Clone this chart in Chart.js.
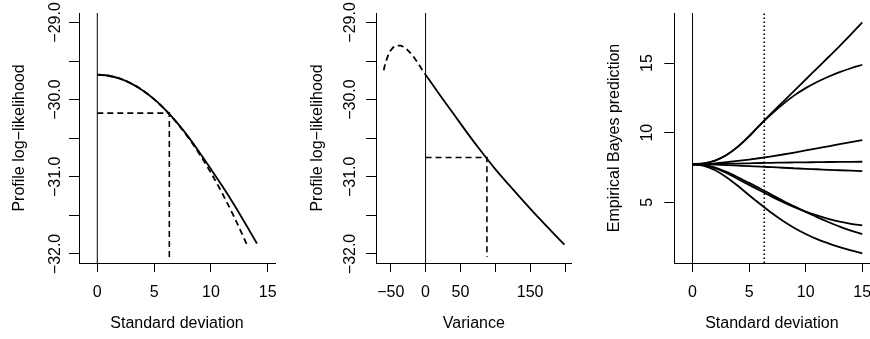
<!DOCTYPE html>
<html>
<head>
<meta charset="utf-8">
<title>Profile likelihood and empirical Bayes</title>
<script src="https://cdn.jsdelivr.net/npm/chart.js@4.4.1/dist/chart.umd.min.js"></script>
<style>
  html, body { margin: 0; padding: 0; background: #fff; }
  .panel { position: absolute; top: 0; width: 290px; height: 339px; }
</style>
</head>
<body>
<div class="panel" style="left:0"><canvas id="sdChart"></canvas></div>
<div class="panel" style="left:290px"><canvas id="varChart"></canvas></div>
<div class="panel" style="left:580px"><canvas id="ebChart"></canvas></div>
<script>
// Panel 1: profile log-likelihood by standard deviation
const sdGrid = [0, 1, 2, 3, 4, 5, 6, 7, 8, 9, 10, 11, 12, 13, 14.05];
const profileBySd = [-29.678, -29.691, -29.729, -29.793, -29.881, -29.994, -30.132, -30.295,
                     -30.480, -30.685, -30.900, -31.120, -31.352, -31.598, -31.865];
const quadGrid = [0, 1, 2, 3, 4, 5, 6, 7, 8, 9, 10, 11, 12, 13, 13.24];
const quadApprox = [-29.678, -29.691, -29.729, -29.792, -29.881, -29.996, -30.135, -30.300,
                    -30.491, -30.707, -30.948, -31.215, -31.507, -31.824, -31.904];
const sdHat = 6.34;
const llAtSdHat = -30.175;

// Panel 2: profile log-likelihood by variance
const varGridNeg = [-60, -58, -55, -52, -48, -44, -40, -36, -32, -28, -24, -20, -16, -12, -8, -4, 0];
const profileNeg = [-29.62, -29.54, -29.46, -29.39, -29.34, -29.31, -29.30, -29.30, -29.315,
                    -29.34, -29.375, -29.413, -29.46, -29.512, -29.568, -29.624, -29.678];
const varGrid = [0, 20, 40, 60, 80, 100, 120, 140, 160, 180, 199.2];
const profileByVar = [-29.678, -29.934, -30.183, -30.434, -30.673, -30.900, -31.109, -31.312,
                      -31.510, -31.700, -31.880];
const varHat = 88;
const llAtVarHat = -30.751;
const dropTo = -32.04;

// Panel 3: empirical Bayes predictions by standard deviation
const ebGrid = [0, 1, 2, 3, 4, 5, 6, 7, 8, 9, 10, 11, 12, 13, 14, 15];
const eb1 = [7.73, 7.80, 8.00, 8.40, 9.00, 9.75, 10.60, 11.42, 12.22, 13.02, 13.82, 14.62, 15.42, 16.22, 17.06, 17.92];
const eb2 = [7.73, 7.80, 7.99, 8.39, 8.98, 9.73, 10.58, 11.35, 12.05, 12.68, 13.20, 13.64, 14.02, 14.35, 14.63, 14.88];
const eb3 = [7.73, 7.75, 7.80, 7.88, 7.97, 8.07, 8.18, 8.30, 8.43, 8.57, 8.72, 8.87, 9.02, 9.17, 9.32, 9.47];
const eb4 = [7.73, 7.74, 7.75, 7.77, 7.78, 7.80, 7.82, 7.83, 7.85, 7.86, 7.87, 7.88, 7.89, 7.90, 7.905, 7.91];
const eb5 = [7.73, 7.72, 7.70, 7.67, 7.63, 7.59, 7.56, 7.52, 7.48, 7.44, 7.40, 7.37, 7.33, 7.30, 7.27, 7.24];
const eb6 = [7.73, 7.66, 7.45, 7.10, 6.68, 6.25, 5.82, 5.40, 5.00, 4.64, 4.33, 4.05, 3.80, 3.60, 3.45, 3.34];
const eb7 = [7.73, 7.67, 7.49, 7.18, 6.80, 6.39, 5.97, 5.53, 5.10, 4.70, 4.31, 3.93, 3.58, 3.25, 2.96, 2.71];
const eb8 = [7.73, 7.62, 7.30, 6.80, 6.18, 5.50, 4.85, 4.22, 3.65, 3.15, 2.72, 2.35, 2.05, 1.78, 1.54, 1.32];
const ebLines = [eb1, eb2, eb3, eb4, eb5, eb6, eb7, eb8];

// Axis ranges and ticks
const llMin = -32.117, llMax = -28.878;
const llTicks = [-32, -31.5, -31, -30.5, -30, -29.5, -29];
const llLabels = [-32, -31, -30, -29];
const sdMin = -1.61, sdMax = 15.64;
const sdTicks = [0, 5, 10, 15];
const varMin = -71.1, varMax = 209.6;
const varTicks = [-50, 0, 50, 100, 150, 200];
const varLabels = [-50, 0, 50, 150];
const ebMin = 0.633, ebMax = 18.6;
const ebTicks = [5, 10, 15];

const FONT = '"Liberation Sans", Arial, Helvetica, sans-serif';
Chart.defaults.font.family = FONT;
Chart.defaults.font.size = 16;
Chart.defaults.color = '#000';

const pts = (xs, ys) => xs.map((x, i) => ({ x: x, y: ys[i] }));
const minus = s => s.replace('-', '\u2212');

const measureCtx = document.createElement('canvas').getContext('2d');
measureCtx.font = '16px ' + FONT;
function widest(labels) {
    return Math.max(...labels.map(t => measureCtx.measureText(t).width));
}

function xAxis(min, max, ticks, shown) {
    return {
        type: 'linear', position: 'bottom', min: min, max: max, bounds: 'data',
        afterBuildTicks: s => { s.ticks = ticks.map(v => ({ value: v })); },
        afterFit: s => { s.height = 76; s.paddingLeft = 0; s.paddingRight = 0; },
        grid: { drawOnChartArea: false, drawTicks: true, tickLength: 9, color: '#000', lineWidth: 1 },
        border: { display: true, color: '#000', width: 1 },
        ticks: {
            padding: 10.9, maxRotation: 0, minRotation: 0, autoSkip: false,
            callback: v => shown.includes(v) ? minus(String(v)) : ''
        },
        title: { display: true, text: '', padding: { top: 0, bottom: 5.9 } }
    };
}

function yAxis(min, max, ticks, shown, fmt, width, labelDist, titleText, titlePad) {
    const labels = shown.map(fmt);
    return {
        type: 'linear', position: 'left', min: min, max: max, bounds: 'data',
        afterBuildTicks: s => { s.ticks = ticks.map(v => ({ value: v })); },
        afterFit: s => { s.width = width; s.paddingTop = 0; s.paddingBottom = 0; },
        grid: { drawOnChartArea: false, drawTicks: true, tickLength: 10, color: '#000', lineWidth: 1 },
        border: { display: true, color: '#000', width: 1 },
        ticks: {
            minRotation: 90, maxRotation: 90, crossAlign: 'center', autoSkip: false,
            padding: labelDist - 10 - widest(labels) / 2,
            callback: v => shown.includes(v) ? fmt(v) : ''
        },
        title: { display: true, text: titleText, padding: { top: titlePad, bottom: 0 } }
    };
}

function line(data, opts) {
    return Object.assign({
        data: data, borderColor: '#000', borderWidth: 1.8, pointRadius: 0,
        fill: false, cubicInterpolationMode: 'monotone'
    }, opts || {});
}

function baseOptions(rightPad, scales) {
    return {
        responsive: true, maintainAspectRatio: false, animation: false, events: [],
        layout: { padding: { top: 13, right: rightPad, bottom: 0, left: 0 } },
        plugins: { legend: { display: false }, tooltip: { enabled: false } },
        scales: scales
    };
}

const llFmt = v => minus(v.toFixed(1));

// Panel 1
const sdX = xAxis(sdMin, sdMax, sdTicks, sdTicks);
sdX.title.text = 'Standard deviation';
new Chart(document.getElementById('sdChart'), {
    type: 'line',
    data: {
        datasets: [
            line([{ x: 0, y: llMin }, { x: 0, y: llMax }], { borderWidth: 1, cubicInterpolationMode: 'default', tension: 0 }),
            line(pts(sdGrid, profileBySd)),
            line(pts(quadGrid, quadApprox), { borderDash: [6, 4] }),
            line([{ x: 0, y: llAtSdHat }, { x: sdHat, y: llAtSdHat }, { x: sdHat, y: dropTo }],
                 { borderDash: [6, 4], borderWidth: 1.6, cubicInterpolationMode: 'default', tension: 0 })
        ]
    },
    options: baseOptions(15, {
        x: sdX,
        y: yAxis(llMin, llMax, llTicks, llLabels, llFmt, 79, 23.5, 'Profile log\u2212likelihood', 9.9)
    })
});

// Panel 2
const varX = xAxis(varMin, varMax, varTicks, varLabels);
varX.title.text = 'Variance';
new Chart(document.getElementById('varChart'), {
    type: 'line',
    data: {
        datasets: [
            line([{ x: 0, y: llMin }, { x: 0, y: llMax }], { borderWidth: 1, cubicInterpolationMode: 'default', tension: 0 }),
            line(pts(varGrid, profileByVar)),
            line(pts(varGridNeg, profileNeg), { borderDash: [6, 4] }),
            line([{ x: 0, y: llAtVarHat }, { x: varHat, y: llAtVarHat }, { x: varHat, y: dropTo }],
                 { borderDash: [6, 4], borderWidth: 1.6, cubicInterpolationMode: 'default', tension: 0 })
        ]
    },
    options: baseOptions(8.3, {
        x: varX,
        y: yAxis(llMin, llMax, llTicks, llLabels, llFmt, 86, 25.7, 'Profile log\u2212likelihood', 17.9)
    })
});

// Panel 3
const ebX = xAxis(sdMin, sdMax, sdTicks, sdTicks);
ebX.title.text = 'Standard deviation';
const ebSets = [
    line([{ x: 0, y: ebMin }, { x: 0, y: ebMax }], { borderWidth: 1, cubicInterpolationMode: 'default', tension: 0 }),
    line([{ x: sdHat, y: ebMin }, { x: sdHat, y: ebMax }],
         { borderWidth: 1.6, borderDash: [1.4, 2.6], cubicInterpolationMode: 'default', tension: 0 })
];
ebLines.forEach(ys => ebSets.push(line(pts(ebGrid, ys))));
new Chart(document.getElementById('ebChart'), {
    type: 'line',
    data: { datasets: ebSets },
    options: baseOptions(0.5, {
        x: ebX,
        y: yAxis(ebMin, ebMax, ebTicks, ebTicks, v => String(v), 94.3, 26.8, 'Empirical Bayes prediction', 25.4)
    })
});
</script>
</body>
</html>
